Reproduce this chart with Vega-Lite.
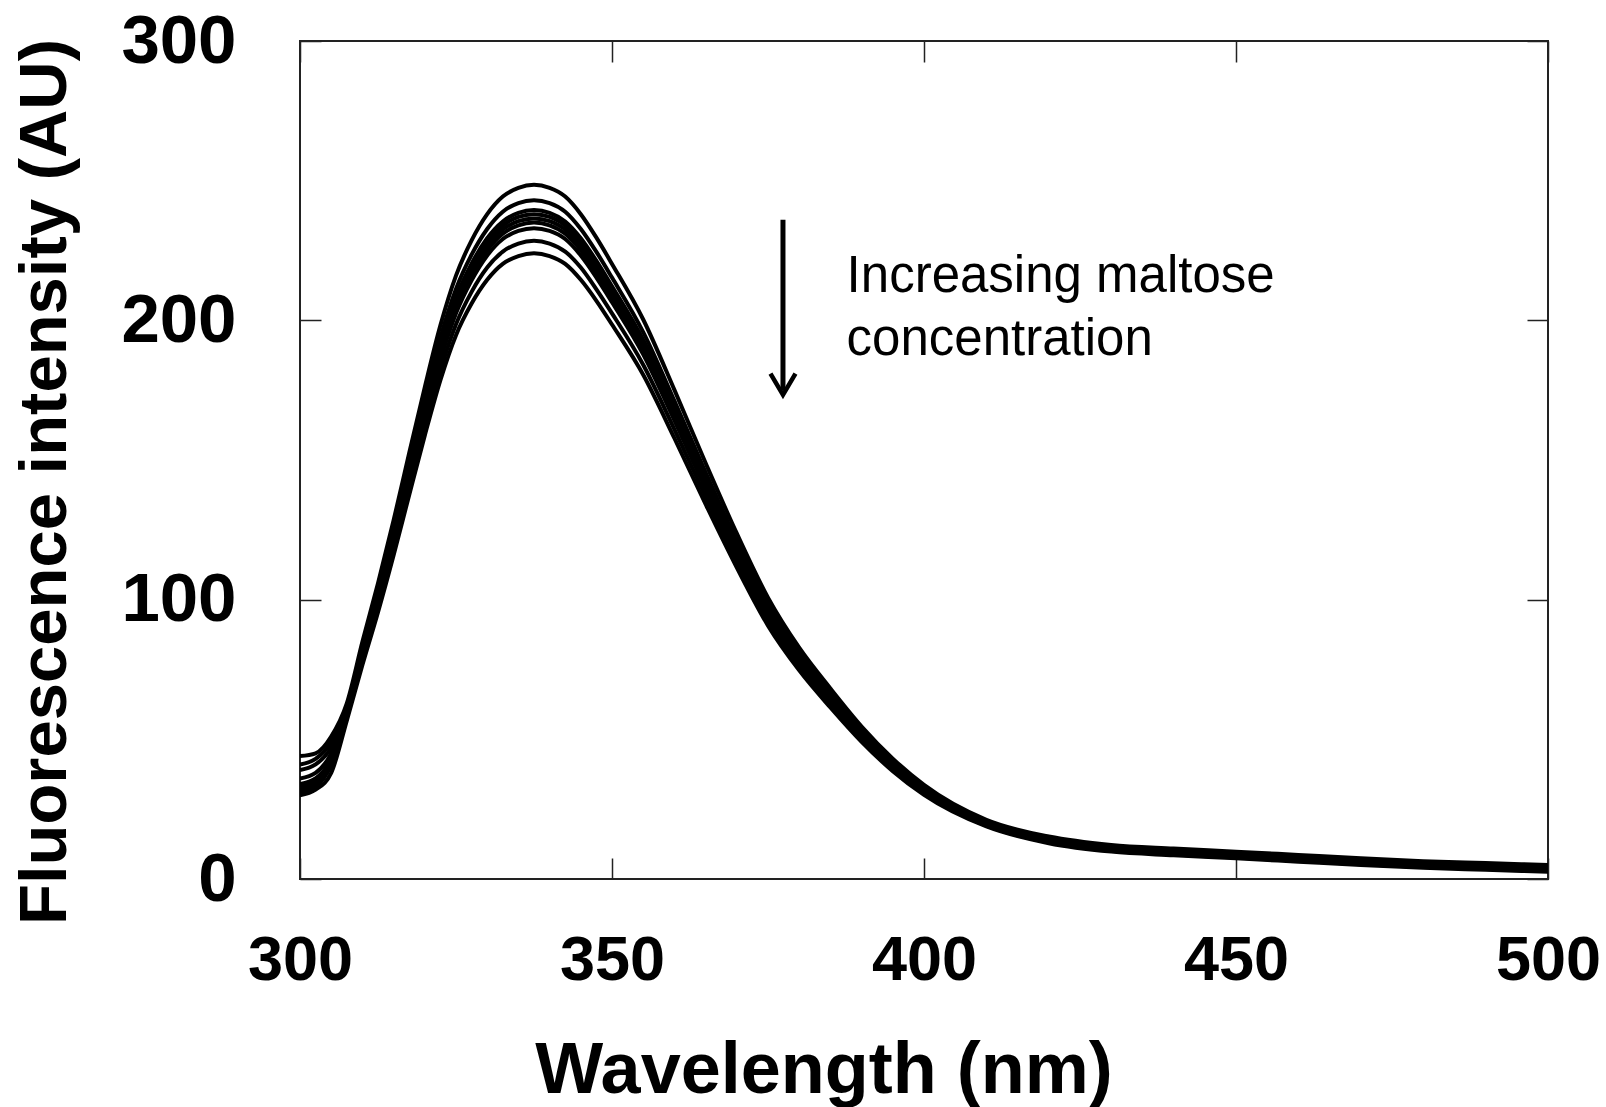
{
"$schema": "https://vega.github.io/schema/vega-lite/v6.json",
"width": 1248, "height": 838,
"autosize": {"type": "none"},
"padding": {"left": 300, "top": 41, "right": 58, "bottom": 228},
"background": "white",
"config": {
  "view": {"stroke": "#222", "strokeWidth": 2},
  "axis": {"grid": false, "domain": false, "tickColor": "#222", "tickWidth": 1.5, "tickSize": -21,
           "labelFont": "Liberation Sans", "labelFontWeight": "bold", "labelFontSize": 63, "labelColor": "black",
           "labelOverlap": false, "labelFlush": false,
           "titleFont": "Liberation Sans", "titleFontWeight": "bold", "titleColor": "black"}
},
"layer": [
  {
    "data": {"values": [
{"curve":"A","nm":300,"v":44},{"curve":"A","nm":302.5,"v":45},{"curve":"A","nm":305,"v":51},{"curve":"A","nm":307.5,"v":62.9},{"curve":"A","nm":310,"v":84.9},{"curve":"A","nm":312.5,"v":105.9},{"curve":"A","nm":315,"v":128.4},{"curve":"A","nm":317.5,"v":152.5},{"curve":"A","nm":320,"v":176.1},{"curve":"A","nm":322.5,"v":198.2},{"curve":"A","nm":325,"v":216.0},{"curve":"A","nm":327.5,"v":228.6},{"curve":"A","nm":330,"v":238.0},{"curve":"A","nm":332.5,"v":244.3},{"curve":"A","nm":335,"v":247.4},{"curve":"A","nm":337.5,"v":248.5},{"curve":"A","nm":340,"v":247.4},{"curve":"A","nm":342.5,"v":244.3},{"curve":"A","nm":345,"v":238.0},{"curve":"A","nm":347.5,"v":229.6},{"curve":"A","nm":350,"v":220.2},{"curve":"A","nm":355,"v":200.3},{"curve":"A","nm":360,"v":175.1},{"curve":"A","nm":365,"v":148.9},{"curve":"A","nm":370,"v":123.7},{"curve":"A","nm":375,"v":100.7},{"curve":"A","nm":380,"v":82.8},{"curve":"A","nm":385,"v":68.2},{"curve":"A","nm":390,"v":54.6},{"curve":"A","nm":395,"v":43.1},{"curve":"A","nm":400,"v":33.7},{"curve":"A","nm":410,"v":21.2},{"curve":"A","nm":420,"v":15.2},{"curve":"A","nm":430,"v":12.2},{"curve":"A","nm":440,"v":10.9},{"curve":"A","nm":450,"v":9.8},{"curve":"A","nm":460,"v":8.6},{"curve":"A","nm":470,"v":7.4},{"curve":"A","nm":480,"v":6.4},{"curve":"A","nm":490,"v":5.7},{"curve":"A","nm":500,"v":5.0},
{"curve":"B","nm":300,"v":41},{"curve":"B","nm":302.5,"v":43},{"curve":"B","nm":305,"v":49},{"curve":"B","nm":307.5,"v":61.5},{"curve":"B","nm":310,"v":83.0},{"curve":"B","nm":312.5,"v":103.6},{"curve":"B","nm":315,"v":125.6},{"curve":"B","nm":317.5,"v":149.2},{"curve":"B","nm":320,"v":172.3},{"curve":"B","nm":322.5,"v":193.8},{"curve":"B","nm":325,"v":211.2},{"curve":"B","nm":327.5,"v":223.5},{"curve":"B","nm":330,"v":232.7},{"curve":"B","nm":332.5,"v":238.9},{"curve":"B","nm":335,"v":242.0},{"curve":"B","nm":337.5,"v":243.0},{"curve":"B","nm":340,"v":242.0},{"curve":"B","nm":342.5,"v":238.9},{"curve":"B","nm":345,"v":232.7},{"curve":"B","nm":347.5,"v":224.5},{"curve":"B","nm":350,"v":215.3},{"curve":"B","nm":355,"v":195.8},{"curve":"B","nm":360,"v":171.2},{"curve":"B","nm":365,"v":145.6},{"curve":"B","nm":370,"v":121.0},{"curve":"B","nm":375,"v":98.4},{"curve":"B","nm":380,"v":81.0},{"curve":"B","nm":385,"v":66.6},{"curve":"B","nm":390,"v":53.3},{"curve":"B","nm":395,"v":42.1},{"curve":"B","nm":400,"v":32.9},{"curve":"B","nm":410,"v":20.8},{"curve":"B","nm":420,"v":14.8},{"curve":"B","nm":430,"v":11.8},{"curve":"B","nm":440,"v":10.5},{"curve":"B","nm":450,"v":9.4},{"curve":"B","nm":460,"v":8.2},{"curve":"B","nm":470,"v":7.0},{"curve":"B","nm":480,"v":6.0},{"curve":"B","nm":490,"v":5.3},{"curve":"B","nm":500,"v":4.6},
{"curve":"C","nm":300,"v":36},{"curve":"C","nm":302.5,"v":38},{"curve":"C","nm":305,"v":45},{"curve":"C","nm":307.5,"v":60.6},{"curve":"C","nm":310,"v":81.9},{"curve":"C","nm":312.5,"v":102.1},{"curve":"C","nm":315,"v":123.8},{"curve":"C","nm":317.5,"v":147.0},{"curve":"C","nm":320,"v":169.8},{"curve":"C","nm":322.5,"v":191.0},{"curve":"C","nm":325,"v":208.2},{"curve":"C","nm":327.5,"v":220.3},{"curve":"C","nm":330,"v":229.4},{"curve":"C","nm":332.5,"v":235.4},{"curve":"C","nm":335,"v":238.5},{"curve":"C","nm":337.5,"v":239.5},{"curve":"C","nm":340,"v":238.5},{"curve":"C","nm":342.5,"v":235.4},{"curve":"C","nm":345,"v":229.4},{"curve":"C","nm":347.5,"v":221.3},{"curve":"C","nm":350,"v":212.2},{"curve":"C","nm":355,"v":193.0},{"curve":"C","nm":360,"v":168.8},{"curve":"C","nm":365,"v":143.5},{"curve":"C","nm":370,"v":119.2},{"curve":"C","nm":375,"v":97.0},{"curve":"C","nm":380,"v":79.8},{"curve":"C","nm":385,"v":65.7},{"curve":"C","nm":390,"v":52.6},{"curve":"C","nm":395,"v":41.5},{"curve":"C","nm":400,"v":32.4},{"curve":"C","nm":410,"v":20.5},{"curve":"C","nm":420,"v":14.5},{"curve":"C","nm":430,"v":11.5},{"curve":"C","nm":440,"v":10.2},{"curve":"C","nm":450,"v":9.1},{"curve":"C","nm":460,"v":7.9},{"curve":"C","nm":470,"v":6.7},{"curve":"C","nm":480,"v":5.7},{"curve":"C","nm":490,"v":5.0},{"curve":"C","nm":500,"v":4.3},
{"curve":"D","nm":300,"v":33},{"curve":"D","nm":302.5,"v":35},{"curve":"D","nm":305,"v":43},{"curve":"D","nm":307.5,"v":60.3},{"curve":"D","nm":310,"v":81.3},{"curve":"D","nm":312.5,"v":101.4},{"curve":"D","nm":315,"v":123.0},{"curve":"D","nm":317.5,"v":146.1},{"curve":"D","nm":320,"v":168.7},{"curve":"D","nm":322.5,"v":189.8},{"curve":"D","nm":325,"v":206.9},{"curve":"D","nm":327.5,"v":218.9},{"curve":"D","nm":330,"v":228.0},{"curve":"D","nm":332.5,"v":234.0},{"curve":"D","nm":335,"v":237.0},{"curve":"D","nm":337.5,"v":238.0},{"curve":"D","nm":340,"v":237.0},{"curve":"D","nm":342.5,"v":234.0},{"curve":"D","nm":345,"v":228.0},{"curve":"D","nm":347.5,"v":219.9},{"curve":"D","nm":350,"v":210.9},{"curve":"D","nm":355,"v":191.8},{"curve":"D","nm":360,"v":167.7},{"curve":"D","nm":365,"v":142.6},{"curve":"D","nm":370,"v":118.5},{"curve":"D","nm":375,"v":96.4},{"curve":"D","nm":380,"v":79.3},{"curve":"D","nm":385,"v":65.3},{"curve":"D","nm":390,"v":52.2},{"curve":"D","nm":395,"v":41.2},{"curve":"D","nm":400,"v":32.1},{"curve":"D","nm":410,"v":20.2},{"curve":"D","nm":420,"v":14.2},{"curve":"D","nm":430,"v":11.2},{"curve":"D","nm":440,"v":9.9},{"curve":"D","nm":450,"v":8.8},{"curve":"D","nm":460,"v":7.6},{"curve":"D","nm":470,"v":6.4},{"curve":"D","nm":480,"v":5.4},{"curve":"D","nm":490,"v":4.7},{"curve":"D","nm":500,"v":4.0},
{"curve":"E","nm":300,"v":31},{"curve":"E","nm":302.5,"v":33},{"curve":"E","nm":305,"v":41},{"curve":"E","nm":307.5,"v":59.9},{"curve":"E","nm":310,"v":80.8},{"curve":"E","nm":312.5,"v":100.8},{"curve":"E","nm":315,"v":122.2},{"curve":"E","nm":317.5,"v":145.2},{"curve":"E","nm":320,"v":167.6},{"curve":"E","nm":322.5,"v":188.6},{"curve":"E","nm":325,"v":205.6},{"curve":"E","nm":327.5,"v":217.5},{"curve":"E","nm":330,"v":226.5},{"curve":"E","nm":332.5,"v":232.5},{"curve":"E","nm":335,"v":235.5},{"curve":"E","nm":337.5,"v":236.5},{"curve":"E","nm":340,"v":235.5},{"curve":"E","nm":342.5,"v":232.5},{"curve":"E","nm":345,"v":226.5},{"curve":"E","nm":347.5,"v":218.5},{"curve":"E","nm":350,"v":209.6},{"curve":"E","nm":355,"v":190.6},{"curve":"E","nm":360,"v":166.6},{"curve":"E","nm":365,"v":141.7},{"curve":"E","nm":370,"v":117.8},{"curve":"E","nm":375,"v":95.8},{"curve":"E","nm":380,"v":78.8},{"curve":"E","nm":385,"v":64.9},{"curve":"E","nm":390,"v":51.9},{"curve":"E","nm":395,"v":40.9},{"curve":"E","nm":400,"v":31.9},{"curve":"E","nm":410,"v":20.0},{"curve":"E","nm":420,"v":14.0},{"curve":"E","nm":430,"v":11.0},{"curve":"E","nm":440,"v":9.7},{"curve":"E","nm":450,"v":8.6},{"curve":"E","nm":460,"v":7.4},{"curve":"E","nm":470,"v":6.2},{"curve":"E","nm":480,"v":5.2},{"curve":"E","nm":490,"v":4.5},{"curve":"E","nm":500,"v":3.8},
{"curve":"F","nm":300,"v":39},{"curve":"F","nm":302.5,"v":41},{"curve":"F","nm":305,"v":47},{"curve":"F","nm":307.5,"v":59.5},{"curve":"F","nm":310,"v":80.3},{"curve":"F","nm":312.5,"v":100.2},{"curve":"F","nm":315,"v":121.5},{"curve":"F","nm":317.5,"v":144.3},{"curve":"F","nm":320,"v":166.6},{"curve":"F","nm":322.5,"v":187.4},{"curve":"F","nm":325,"v":204.3},{"curve":"F","nm":327.5,"v":216.2},{"curve":"F","nm":330,"v":225.1},{"curve":"F","nm":332.5,"v":231.0},{"curve":"F","nm":335,"v":234.0},{"curve":"F","nm":337.5,"v":235.0},{"curve":"F","nm":340,"v":234.0},{"curve":"F","nm":342.5,"v":231.0},{"curve":"F","nm":345,"v":225.1},{"curve":"F","nm":347.5,"v":217.2},{"curve":"F","nm":350,"v":208.2},{"curve":"F","nm":355,"v":189.4},{"curve":"F","nm":360,"v":165.6},{"curve":"F","nm":365,"v":140.8},{"curve":"F","nm":370,"v":117.0},{"curve":"F","nm":375,"v":95.2},{"curve":"F","nm":380,"v":78.3},{"curve":"F","nm":385,"v":64.5},{"curve":"F","nm":390,"v":51.6},{"curve":"F","nm":395,"v":40.6},{"curve":"F","nm":400,"v":31.7},{"curve":"F","nm":410,"v":19.7},{"curve":"F","nm":420,"v":13.7},{"curve":"F","nm":430,"v":10.7},{"curve":"F","nm":440,"v":9.4},{"curve":"F","nm":450,"v":8.3},{"curve":"F","nm":460,"v":7.1},{"curve":"F","nm":470,"v":5.9},{"curve":"F","nm":480,"v":4.9},{"curve":"F","nm":490,"v":4.2},{"curve":"F","nm":500,"v":3.5},
{"curve":"G","nm":300,"v":34},{"curve":"G","nm":302.5,"v":36},{"curve":"G","nm":305,"v":43},{"curve":"G","nm":307.5,"v":59.0},{"curve":"G","nm":310,"v":79.6},{"curve":"G","nm":312.5,"v":99.3},{"curve":"G","nm":315,"v":120.5},{"curve":"G","nm":317.5,"v":143.0},{"curve":"G","nm":320,"v":165.2},{"curve":"G","nm":322.5,"v":185.8},{"curve":"G","nm":325,"v":202.5},{"curve":"G","nm":327.5,"v":214.3},{"curve":"G","nm":330,"v":223.2},{"curve":"G","nm":332.5,"v":229.1},{"curve":"G","nm":335,"v":232.0},{"curve":"G","nm":337.5,"v":233.0},{"curve":"G","nm":340,"v":232.0},{"curve":"G","nm":342.5,"v":229.1},{"curve":"G","nm":345,"v":223.2},{"curve":"G","nm":347.5,"v":215.3},{"curve":"G","nm":350,"v":206.5},{"curve":"G","nm":355,"v":187.8},{"curve":"G","nm":360,"v":164.2},{"curve":"G","nm":365,"v":139.6},{"curve":"G","nm":370,"v":116.0},{"curve":"G","nm":375,"v":94.4},{"curve":"G","nm":380,"v":77.7},{"curve":"G","nm":385,"v":63.9},{"curve":"G","nm":390,"v":51.1},{"curve":"G","nm":395,"v":40.3},{"curve":"G","nm":400,"v":31.4},{"curve":"G","nm":410,"v":19.4},{"curve":"G","nm":420,"v":13.4},{"curve":"G","nm":430,"v":10.4},{"curve":"G","nm":440,"v":9.1},{"curve":"G","nm":450,"v":8.0},{"curve":"G","nm":460,"v":6.8},{"curve":"G","nm":470,"v":5.6},{"curve":"G","nm":480,"v":4.6},{"curve":"G","nm":490,"v":3.9},{"curve":"G","nm":500,"v":3.2},
{"curve":"H","nm":300,"v":32},{"curve":"H","nm":302.5,"v":34},{"curve":"H","nm":305,"v":41},{"curve":"H","nm":307.5,"v":57.8},{"curve":"H","nm":310,"v":78.1},{"curve":"H","nm":312.5,"v":97.4},{"curve":"H","nm":315,"v":118.2},{"curve":"H","nm":317.5,"v":140.3},{"curve":"H","nm":320,"v":162.0},{"curve":"H","nm":322.5,"v":182.2},{"curve":"H","nm":325,"v":198.6},{"curve":"H","nm":327.5,"v":210.2},{"curve":"H","nm":330,"v":218.9},{"curve":"H","nm":332.5,"v":224.6},{"curve":"H","nm":335,"v":227.5},{"curve":"H","nm":337.5,"v":228.5},{"curve":"H","nm":340,"v":227.5},{"curve":"H","nm":342.5,"v":224.6},{"curve":"H","nm":345,"v":218.9},{"curve":"H","nm":347.5,"v":211.1},{"curve":"H","nm":350,"v":202.5},{"curve":"H","nm":355,"v":184.1},{"curve":"H","nm":360,"v":161.0},{"curve":"H","nm":365,"v":136.9},{"curve":"H","nm":370,"v":113.8},{"curve":"H","nm":375,"v":92.6},{"curve":"H","nm":380,"v":76.2},{"curve":"H","nm":385,"v":62.7},{"curve":"H","nm":390,"v":50.1},{"curve":"H","nm":395,"v":39.5},{"curve":"H","nm":400,"v":30.7},{"curve":"H","nm":410,"v":19.1},{"curve":"H","nm":420,"v":13.1},{"curve":"H","nm":430,"v":10.1},{"curve":"H","nm":440,"v":8.8},{"curve":"H","nm":450,"v":7.7},{"curve":"H","nm":460,"v":6.5},{"curve":"H","nm":470,"v":5.3},{"curve":"H","nm":480,"v":4.3},{"curve":"H","nm":490,"v":3.6},{"curve":"H","nm":500,"v":2.9},
{"curve":"I","nm":300,"v":30},{"curve":"I","nm":302.5,"v":32},{"curve":"I","nm":305,"v":38},{"curve":"I","nm":307.5,"v":56.7},{"curve":"I","nm":310,"v":76.6},{"curve":"I","nm":312.5,"v":95.5},{"curve":"I","nm":315,"v":115.9},{"curve":"I","nm":317.5,"v":137.5},{"curve":"I","nm":320,"v":158.8},{"curve":"I","nm":322.5,"v":178.6},{"curve":"I","nm":325,"v":194.7},{"curve":"I","nm":327.5,"v":206.0},{"curve":"I","nm":330,"v":214.5},{"curve":"I","nm":332.5,"v":220.2},{"curve":"I","nm":335,"v":223.0},{"curve":"I","nm":337.5,"v":224.0},{"curve":"I","nm":340,"v":223.0},{"curve":"I","nm":342.5,"v":220.2},{"curve":"I","nm":345,"v":214.5},{"curve":"I","nm":347.5,"v":207.0},{"curve":"I","nm":350,"v":198.5},{"curve":"I","nm":355,"v":180.5},{"curve":"I","nm":360,"v":157.8},{"curve":"I","nm":365,"v":134.2},{"curve":"I","nm":370,"v":111.5},{"curve":"I","nm":375,"v":90.7},{"curve":"I","nm":380,"v":74.7},{"curve":"I","nm":385,"v":61.4},{"curve":"I","nm":390,"v":49.1},{"curve":"I","nm":395,"v":38.6},{"curve":"I","nm":400,"v":30.1},{"curve":"I","nm":410,"v":18.8},{"curve":"I","nm":420,"v":12.8},{"curve":"I","nm":430,"v":9.8},{"curve":"I","nm":440,"v":8.5},{"curve":"I","nm":450,"v":7.4},{"curve":"I","nm":460,"v":6.2},{"curve":"I","nm":470,"v":5.0},{"curve":"I","nm":480,"v":4.0},{"curve":"I","nm":490,"v":3.3},{"curve":"I","nm":500,"v":2.6}
    ]},
    "mark": {"type": "line", "color": "black", "strokeWidth": 4, "interpolate": "monotone", "clip": true},
    "encoding": {
      "x": {"field": "nm", "type": "quantitative", "scale": {"domain": [300, 500], "nice": false, "zero": false},
            "axis": {"values": [300, 350, 400, 450, 500], "title": "Wavelength (nm)", "labelPadding": 71,
                     "titleFontSize": 72, "titleX": 523.5, "titleY": 213, "titleBaseline": "alphabetic", "titleAlign": "center"}},
      "y": {"field": "v", "type": "quantitative", "scale": {"domain": [0, 300], "nice": false, "zero": false},
            "axis": {"values": [0, 100, 200, 300], "title": "Fluorescence intensity (AU)", "labelPadding": 85, "labelFontSize": 69,
                     "titleFontSize": 67, "titleX": -235, "titleY": 440.5, "titleBaseline": "alphabetic", "titleAlign": "center", "titleAngle": 270}},
      "detail": {"field": "curve", "type": "nominal"}
    }
  },
  {
    "data": {"values": [{}]},
    "mark": {"type": "rule", "stroke": "black", "strokeWidth": 5},
    "encoding": {
      "x": {"datum": 377.4, "type": "quantitative",
            "axis": {"orient": "top", "labels": false, "title": null, "values": [300, 350, 400, 450, 500]}},
      "y": {"datum": 236, "type": "quantitative",
            "axis": {"orient": "right", "labels": false, "title": null, "values": [0, 100, 200, 300]}},
      "y2": {"datum": 175}
    }
  },
  {
    "data": {"values": [{}]},
    "mark": {"type": "point", "shape": "M-1,-1.7L0,0L1,-1.7", "size": 625, "filled": false, "stroke": "black", "strokeWidth": 4.5, "opacity": 1},
    "encoding": {
      "x": {"datum": 377.4, "type": "quantitative", "axis": null},
      "y": {"datum": 173.3, "type": "quantitative", "axis": null}
    }
  },
  {
    "data": {"values": [{}]},
    "mark": {"type": "text", "text": ["Increasing maltose", "concentration"], "font": "Liberation Sans", "fontSize": 51,
             "align": "left", "baseline": "alphabetic", "lineHeight": 63.3, "color": "black"},
    "encoding": {
      "x": {"datum": 387.6, "type": "quantitative", "axis": null},
      "y": {"datum": 210.3, "type": "quantitative", "axis": null}
    }
  }
],
"resolve": {"axis": {"x": "independent", "y": "independent"}}
}
